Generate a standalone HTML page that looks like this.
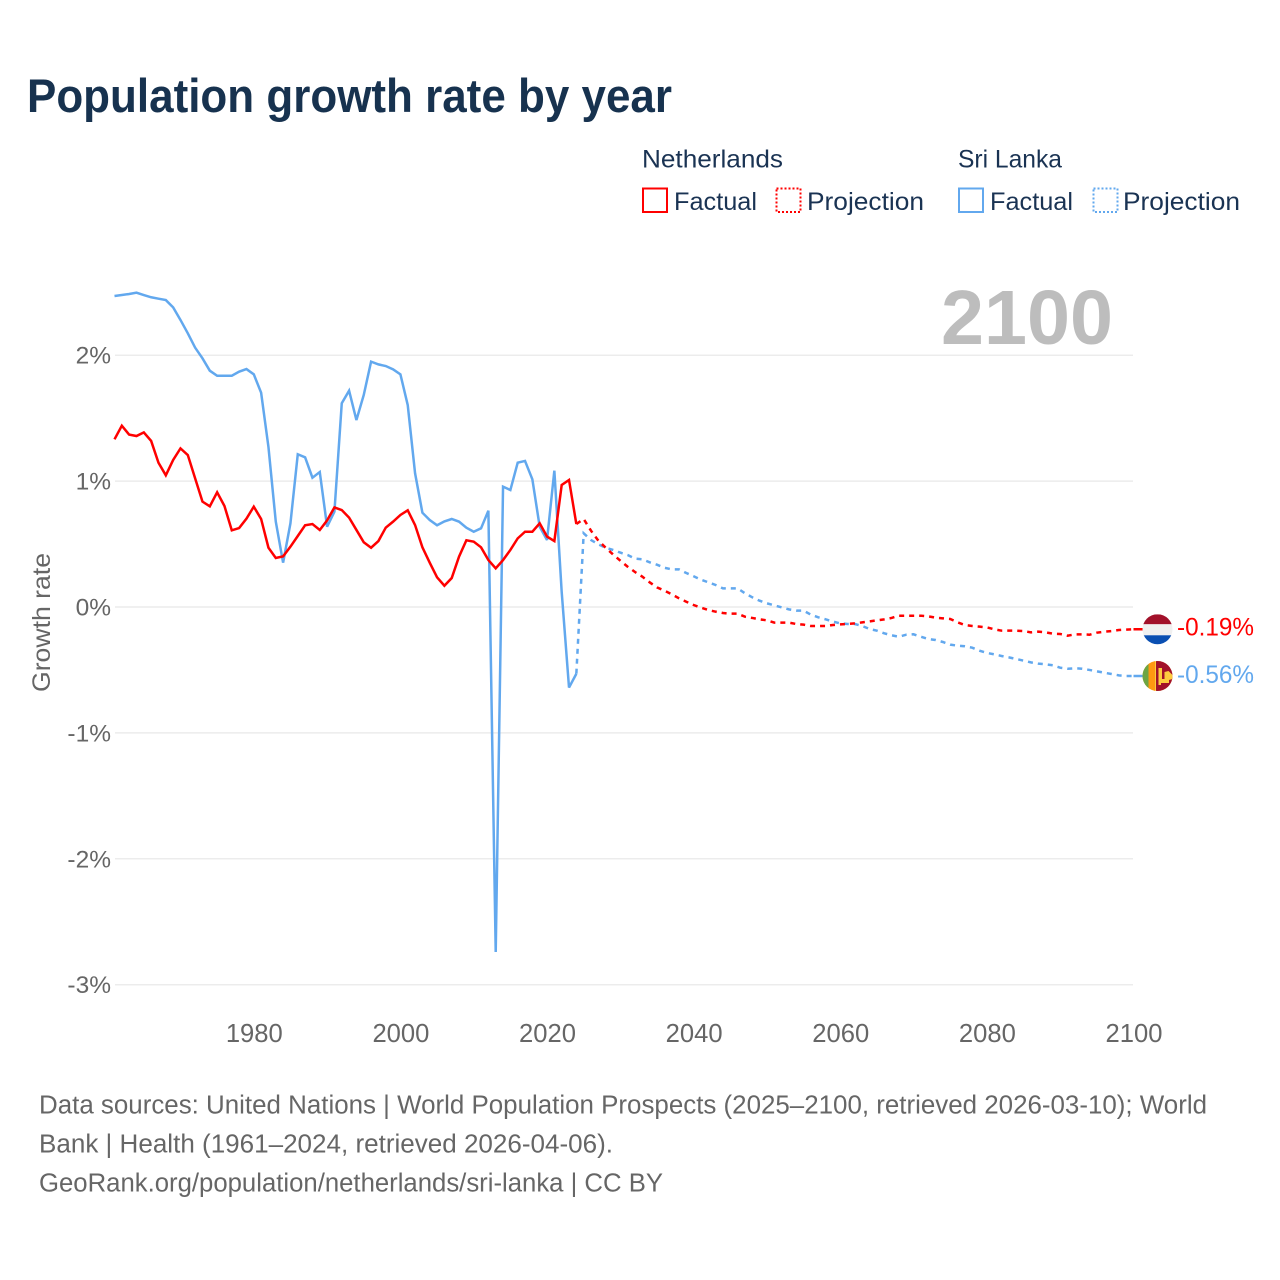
<!DOCTYPE html>
<html lang="en">
<head>
<meta charset="utf-8">
<title>Population growth rate by year</title>
<style>
html,body{margin:0;padding:0;background:#fff;}
svg{display:block;}
text{font-family:"Liberation Sans",sans-serif;}
.t-dark{fill:#1a3353;font-size:25px;}
.t-grey{fill:#666;font-size:25px;}
.t-foot{fill:#666;font-size:25.5px;}
</style>
</head>
<body>
<svg id="chart" width="1280" height="1280" viewBox="0 0 1280 1280" xmlns="http://www.w3.org/2000/svg">
  <defs>
    <clipPath id="flag-clip-nl"><circle cx="0" cy="0" r="15"></circle></clipPath>
    <clipPath id="flag-clip-lk"><circle cx="0" cy="0" r="15"></circle></clipPath>
  </defs>
  <rect width="1280" height="1280" fill="#fff"></rect>

  <text x="27" y="112" font-size="47" font-weight="700" fill="#17324f" textLength="645" lengthAdjust="spacingAndGlyphs">Population growth rate by year</text>

  <g>
    <text class="t-dark" x="642" y="167.5" textLength="141" lengthAdjust="spacingAndGlyphs">Netherlands</text>
    <text class="t-dark" x="958" y="167.5" textLength="104" lengthAdjust="spacingAndGlyphs">Sri Lanka</text>

    <g>
      <rect x="643" y="188.5" width="24" height="23.5" fill="none" stroke="#ff0000" stroke-width="2"></rect>
      <text class="t-dark" x="674" y="210" textLength="83" lengthAdjust="spacingAndGlyphs">Factual</text>
    </g>
    <g>
      <rect x="776.5" y="188.5" width="24" height="23.5" fill="none" stroke="#ff0000" stroke-width="2" stroke-dasharray="2,2"></rect>
      <text class="t-dark" x="807" y="210" textLength="117" lengthAdjust="spacingAndGlyphs">Projection</text>
    </g>
    <g>
      <rect x="959" y="188.5" width="24" height="23.5" fill="none" stroke="#62a8ee" stroke-width="2"></rect>
      <text class="t-dark" x="990" y="210" textLength="83" lengthAdjust="spacingAndGlyphs">Factual</text>
    </g>
    <g>
      <rect x="1093.5" y="188.5" width="24" height="23.5" fill="none" stroke="#62a8ee" stroke-width="2" stroke-dasharray="2,2"></rect>
      <text class="t-dark" x="1123" y="210" textLength="117" lengthAdjust="spacingAndGlyphs">Projection</text>
    </g>
  </g>

  <g id="grid"></g>
  <g id="y-labels"></g>
  <g id="x-labels"></g>

  <text x="941" y="344" font-size="77" font-weight="700" fill="#bdbdbd" textLength="172" lengthAdjust="spacingAndGlyphs">2100</text>

  <text class="t-grey" transform="translate(50,692) rotate(-90)" x="0" y="0" textLength="139" lengthAdjust="spacingAndGlyphs">Growth rate</text>

  <g id="series"></g>
  <g id="end-markers"></g>

  <g>
    <text class="t-foot" x="39" y="1113.5" textLength="1168" lengthAdjust="spacingAndGlyphs">Data sources: United Nations | World Population Prospects (2025–2100, retrieved 2026-03-10); World</text>
    <text class="t-foot" x="39" y="1152.5" textLength="574" lengthAdjust="spacingAndGlyphs">Bank | Health (1961–2024, retrieved 2026-04-06).</text>
    <text class="t-foot" x="39" y="1191.5" textLength="624" lengthAdjust="spacingAndGlyphs">GeoRank.org/population/netherlands/sri-lanka | CC BY</text>
  </g>
</svg>

<script>
const yTicks = [2, 1, 0, -1, -2, -3];
const yTickLabels = ['2%', '1%', '0%', '-1%', '-2%', '-3%'];
const xTicks = [1980, 2000, 2020, 2040, 2060, 2080, 2100];
const factualStartYear = 1961;
const projectionStartYear = 2025;
const netherlandsFactual = [
  1.332,1.440,1.369,1.358,1.387,1.319,1.146,1.046,1.168,1.260,
  1.207,1.022,0.837,0.800,0.911,0.802,0.609,0.627,0.702,0.797,
  0.699,0.471,0.389,0.402,0.479,0.564,0.649,0.659,0.612,0.688,
  0.791,0.770,0.710,0.612,0.514,0.471,0.524,0.630,0.678,0.731,
  0.768,0.651,0.474,0.352,0.236,0.169,0.230,0.400,0.530,0.519,
  0.474,0.373,0.307,0.373,0.453,0.545,0.598,0.598,0.665,0.559,
  0.524,0.969,1.009,0.659
];
const sriLankaFactual = [
  2.470,2.478,2.486,2.497,2.478,2.460,2.449,2.438,2.380,2.280,
  2.174,2.060,1.975,1.877,1.837,1.837,1.837,1.869,1.890,1.848,
  1.702,1.271,0.678,0.352,0.665,1.213,1.189,1.027,1.072,0.638,
  0.757,1.618,1.718,1.485,1.684,1.949,1.927,1.914,1.888,1.848,
  1.604,1.062,0.749,0.691,0.649,0.680,0.699,0.678,0.630,0.598,
  0.625,0.765,-2.74,0.956,0.929,1.146,1.160,1.014,0.638,0.532,
  1.083,0.12,-0.64,-0.53
];
const netherlandsProjection = [
  0.699,0.606,0.527,0.471,0.418,0.368,
  0.320,0.278,0.241,0.196,0.156,0.130,0.101,0.069,0.042,0.016,
  -0.005,-0.024,-0.037,-0.048,-0.053,-0.053,-0.077,-0.087,-0.098,-0.106,
  -0.124,-0.124,-0.124,-0.135,-0.140,-0.151,-0.151,-0.151,-0.143,-0.138,
  -0.135,-0.130,-0.122,-0.114,-0.106,-0.098,-0.087,-0.069,-0.069,-0.069,
  -0.069,-0.074,-0.085,-0.090,-0.095,-0.122,-0.143,-0.151,-0.156,-0.162,
  -0.177,-0.188,-0.188,-0.188,-0.191,-0.201,-0.196,-0.201,-0.212,-0.214,
  -0.228,-0.217,-0.217,-0.220,-0.204,-0.196,-0.191,-0.183,-0.180,-0.177
];
const sriLankaProjection = [
  0.585,0.532,0.498,0.471,0.453,0.432,
  0.413,0.384,0.379,0.355,0.336,0.312,0.299,0.299,0.270,0.244,
  0.217,0.196,0.175,0.148,0.148,0.148,0.109,0.077,0.050,0.029,
  0.013,-0.003,-0.019,-0.029,-0.029,-0.061,-0.082,-0.098,-0.116,-0.130,
  -0.135,-0.135,-0.151,-0.175,-0.188,-0.209,-0.225,-0.236,-0.220,-0.217,
  -0.236,-0.254,-0.262,-0.278,-0.299,-0.307,-0.312,-0.323,-0.347,-0.365,
  -0.376,-0.389,-0.400,-0.413,-0.426,-0.440,-0.450,-0.455,-0.463,-0.482,
  -0.490,-0.487,-0.490,-0.500,-0.511,-0.522,-0.532,-0.543,-0.548,-0.548
];
const netherlandsEndLabel = '-0.19%';
const sriLankaEndLabel = '-0.56%';

const NS = 'http://www.w3.org/2000/svg';
const RED = '#ff0000';
const BLUE = '#62a8ee';
function xScale(year) { return 114.5 + (year - 1961) * (1133.5 - 114.5) / 139; }
function yScale(v) { return 607 - v * 125.9; }
function make(tag, attrs, parent) {
  const el = document.createElementNS(NS, tag);
  for (const k in attrs) el.setAttribute(k, attrs[k]);
  parent.appendChild(el);
  return el;
}
function pathFrom(points) {
  return points.map((p, i) => (i ? 'L' : 'M') + xScale(p[0]).toFixed(2) + ' ' + yScale(p[1]).toFixed(2)).join(' ');
}
function factualPoints(values) {
  return values.map((v, i) => [factualStartYear + i, v]);
}
function projectionPoints(values, factual) {
  const pts = [[factualStartYear + factual.length - 1, factual[factual.length - 1]]];
  values.forEach((v, i) => pts.push([projectionStartYear + i, v]));
  return pts;
}

const gridG = document.getElementById('grid');
const yLabelG = document.getElementById('y-labels');
yTicks.forEach((t, i) => {
  const line = make('line', {x1: 115, x2: 1133, y1: yScale(t), y2: yScale(t), stroke: '#ececec', 'stroke-width': 1.5}, gridG);
  
  
  const label = make('text', {x: 111, y: yScale(t) + 8.5, 'text-anchor': 'end', fill: '#666', 'font-size': 24.5}, yLabelG);
  label.textContent = yTickLabels[i];
  
  
});

const xLabelG = document.getElementById('x-labels');
xTicks.forEach(t => {
  const label = make('text', {x: xScale(t) + 0.5, y: 1042, 'text-anchor': 'middle', fill: '#666', 'font-size': 25.6}, xLabelG);
  label.textContent = String(t);
  
  
});

const seriesG = document.getElementById('series');
const lkFactualLine = make('path', {d: pathFrom(factualPoints(sriLankaFactual)), fill: 'none', stroke: BLUE, 'stroke-width': 2.5, 'stroke-linejoin': 'miter', 'stroke-miterlimit': 3}, seriesG);


const lkProjectionLine = make('path', {d: pathFrom(projectionPoints(sriLankaProjection, sriLankaFactual)), fill: 'none', stroke: BLUE, 'stroke-width': 2.5, 'stroke-dasharray': '5,5'}, seriesG);


const nlFactualLine = make('path', {d: pathFrom(factualPoints(netherlandsFactual)), fill: 'none', stroke: RED, 'stroke-width': 2.5, 'stroke-linejoin': 'miter', 'stroke-miterlimit': 3}, seriesG);


const nlProjectionLine = make('path', {d: pathFrom(projectionPoints(netherlandsProjection, netherlandsFactual)), fill: 'none', stroke: RED, 'stroke-width': 2.5, 'stroke-dasharray': '5,5'}, seriesG);



const markersG = document.getElementById('end-markers');
const lastNl = netherlandsProjection[netherlandsProjection.length - 1];
const lastLk = sriLankaProjection[sriLankaProjection.length - 1];
const flagX = xScale(2100) + 24;

const nlTail = make('line', {x1: xScale(2100), x2: flagX, y1: yScale(lastNl), y2: yScale(lastNl), stroke: RED, 'stroke-width': 2.5}, markersG);


const lkTail = make('line', {x1: xScale(2100), x2: flagX, y1: yScale(lastLk), y2: yScale(lastLk), stroke: BLUE, 'stroke-width': 2.5}, markersG);



const nlFlag = make('g', {transform: 'translate(' + flagX + ',' + yScale(lastNl) + ')', 'clip-path': 'url(#flag-clip-nl)'}, markersG);


make('rect', {x: -15, y: -15, width: 30, height: 10, fill: '#a2112a'}, nlFlag);
make('rect', {x: -15, y: -5, width: 30, height: 11, fill: '#f0f0f0'}, nlFlag);
make('rect', {x: -15, y: 6, width: 30, height: 10, fill: '#0a4fb2'}, nlFlag);

const lkFlag = make('g', {transform: 'translate(' + flagX + ',' + yScale(lastLk) + ')', 'clip-path': 'url(#flag-clip-lk)'}, markersG);


make('rect', {x: -15, y: -15, width: 30, height: 30, fill: '#fdcb3e'}, lkFlag);
make('rect', {x: -15, y: -15, width: 6, height: 30, fill: '#6da544'}, lkFlag);
make('rect', {x: -9, y: -15, width: 6.5, height: 30, fill: '#ff9811'}, lkFlag);
make('rect', {x: -1.5, y: -15, width: 17, height: 30, fill: '#a2112a'}, lkFlag);
make('path', {d: 'M1 -8 H4.5 V3 H7 V-4 L11 -5 L15 -1 V3 L11.5 4 V7 H3.5 V9 H1 Z', fill: '#fdcb3e'}, lkFlag);

const nlLabel = make('text', {x: 1177, y: yScale(lastNl) + 6, fill: RED, 'font-size': 25, textLength: 77, lengthAdjust: 'spacingAndGlyphs'}, markersG);
nlLabel.textContent = netherlandsEndLabel;


const lkLabel = make('text', {x: 1177, y: yScale(lastLk) + 7, fill: BLUE, 'font-size': 25, textLength: 77, lengthAdjust: 'spacingAndGlyphs'}, markersG);
lkLabel.textContent = sriLankaEndLabel;


</script>
</body>
</html>
